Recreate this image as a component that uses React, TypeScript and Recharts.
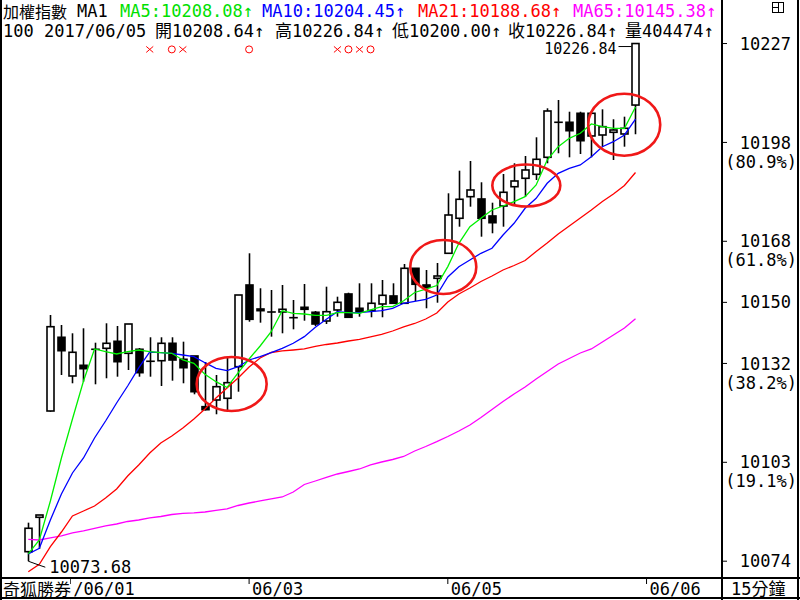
import React from 'react';
import { Bar, ComposedChart, Line, ReferenceDot, XAxis, YAxis } from 'recharts';

// 15-minute bars, 加權指數
const OPEN = [
  10076.5, 10086.67, 10118.12, 10139.93, 10128.48, 10131.64, 10136.38, 10136.67, 10138.74, 10135.19,
  10136.38, 10132.83, 10133.0, 10138.15, 10133.42, 10134.4, 10119.4, 10121.38, 10121.88, 10131.23,
  10155.4, 10148.3, 10147.41, 10147.41, 10145.73, 10148.8, 10147.33, 10144.75, 10148.01, 10152.74,
  10148.51, 10147.8, 10149.78, 10152.15, 10149.99, 10160.34, 10155.4, 10157.38, 10164.78, 10175.14,
  10181.53, 10180.85, 10175.82, 10178.77, 10184.48, 10186.97, 10188.15, 10193.18, 10203.54, 10203.54,
  10206.2, 10199.49, 10199.78, 10200.58, 10200.08, 10208.64,
];
const HIGH = [
  10085.08, 10087.35, 10146.53, 10143.57, 10141.11, 10142.59, 10138.33, 10144.07, 10143.27, 10143.86,
  10136.76, 10139.93, 10139.93, 10139.93, 10138.63, 10134.4, 10132.62, 10128.77, 10134.19, 10152.44,
  10164.78, 10154.43, 10153.92, 10155.4, 10150.96, 10155.7, 10147.71, 10154.9, 10151.94, 10153.12,
  10155.9, 10155.9, 10156.88, 10155.9, 10161.61, 10160.34, 10159.84, 10161.91, 10182.53, 10189.22,
  10192.09, 10185.79, 10179.75, 10188.24, 10191.41, 10193.57, 10199.1, 10207.68, 10210.14, 10206.67,
  10206.67, 10206.4, 10207.38, 10204.43, 10205.2, 10226.84,
];
const LOW = [
  10073.68, 10077.3, 10117.9, 10128.77, 10126.32, 10126.79, 10126.02, 10127.8, 10128.27, 10130.25,
  10128.27, 10128.27, 10125.52, 10127.09, 10126.32, 10123.06, 10118.27, 10117.15, 10117.83, 10123.83,
  10144.54, 10144.25, 10140.11, 10141.11, 10142.29, 10144.84, 10143.27, 10143.86, 10146.02, 10145.64,
  10146.02, 10145.85, 10145.85, 10149.8, 10149.8, 10150.67, 10148.51, 10150.16, 10164.6, 10172.65,
  10178.57, 10169.69, 10170.7, 10172.65, 10179.37, 10181.53, 10186.47, 10191.41, 10194.37, 10193.18,
  10194.16, 10193.18, 10196.32, 10192.38, 10196.32, 10200.0,
];
const CLOSE = [
  10083.42, 10087.35, 10143.06, 10135.96, 10135.49, 10130.64, 10136.38, 10138.15, 10132.71, 10143.86,
  10129.46, 10132.83, 10138.15, 10133.21, 10130.93, 10123.83, 10118.51, 10125.31, 10126.5, 10152.44,
  10145.25, 10147.8, 10147.41, 10148.21, 10145.73, 10148.21, 10143.86, 10147.5, 10150.28, 10145.85,
  10147.5, 10149.99, 10152.35, 10149.99, 10160.34, 10155.61, 10154.72, 10158.06, 10176.11, 10180.76,
  10183.51, 10175.14, 10173.83, 10182.83, 10186.17, 10189.43, 10192.59, 10206.88, 10203.54, 10201.05,
  10198.09, 10206.2, 10202.24, 10201.26, 10201.76, 10226.84,
];

const MA5 = [
  10075.82, 10079.96, 10091.5, 10104.22, 10115.76, 10127.0, 10136.47, 10135.67, 10134.99, 10135.67,
  10136.17, 10135.67, 10135.37, 10135.19, 10133.21, 10132.24, 10128.98, 10126.79, 10125.08, 10129.37,
  10133.51, 10137.35, 10141.58, 10147.8, 10147.03, 10146.82, 10146.44, 10146.44, 10147.21, 10147.21,
  10147.03, 10148.01, 10148.98, 10148.98, 10150.73, 10153.18, 10154.16, 10155.25, 10160.85, 10167.74,
  10172.65, 10175.14, 10177.59, 10178.77, 10180.05, 10181.53, 10184.99, 10192.38, 10196.32, 10198.8,
  10200.28, 10203.04, 10202.24, 10201.76, 10201.76, 10208.08,
];
const MA10 = [
  10075.82, 10077.5, 10085.87, 10093.57, 10099.78, 10104.22, 10110.14, 10115.16, 10120.49, 10125.52,
  10130.85, 10135.58, 10135.37, 10135.19, 10134.69, 10134.19, 10132.41, 10130.76, 10130.05, 10131.23,
  10133.21, 10134.19, 10135.37, 10136.67, 10138.15, 10140.11, 10142.89, 10145.25, 10147.5, 10147.21,
  10147.21, 10147.5, 10147.8, 10148.51, 10149.99, 10150.58, 10151.17, 10152.44, 10157.77, 10160.82,
  10162.8, 10164.78, 10166.26, 10170.19, 10173.66, 10178.09, 10181.05, 10185.49, 10188.45, 10189.93,
  10190.91, 10193.36, 10196.32, 10197.8, 10199.78, 10204.45,
];
const MA21 = [
  10070.58, 10072.77, 10077.98, 10082.32, 10087.06, 10088.54, 10090.02, 10092.38, 10095.05, 10098.89,
  10102.15, 10105.7, 10108.66, 10110.73, 10113.09, 10115.76, 10118.72, 10121.97, 10124.93, 10127.89,
  10131.14, 10133.8, 10135.43, 10135.88, 10136.17, 10136.47, 10137.21, 10137.8, 10138.24, 10138.83,
  10139.28, 10140.02, 10140.76, 10141.79, 10142.98, 10144.01, 10145.34, 10147.12, 10150.37, 10152.74,
  10154.51, 10156.44, 10158.06, 10159.84, 10161.17, 10162.65, 10165.31, 10167.83, 10170.49, 10172.86,
  10175.22, 10177.59, 10180.11, 10182.33, 10184.84, 10188.68,
];
const MA65 = [
  10080.16, 10079.96, 10080.55, 10081.14, 10082.03, 10082.62, 10083.36, 10084.1, 10084.69, 10085.43,
  10085.87, 10086.47, 10086.91, 10087.5, 10087.86, 10087.95, 10088.24, 10088.69, 10089.13, 10090.16,
  10090.9, 10091.5, 10092.09, 10092.68, 10094.16, 10096.38, 10097.41, 10098.45, 10099.48, 10100.22,
  10100.96, 10102.15, 10103.03, 10103.77, 10104.66, 10106.29, 10107.62, 10109.04, 10110.58, 10112.21,
  10113.98, 10116.2, 10118.57, 10120.93, 10123.15, 10125.22, 10127.59, 10129.81, 10132.03, 10133.66,
  10135.28, 10136.47, 10138.54, 10140.61, 10142.68, 10145.38,
];

// price axis: fibonacci levels of the visible range
const LEVELS = [10226.84, 10197.58, 10168.33, 10150.26, 10132.19, 10102.94, 10073.68];
const LEVEL_LABELS = ['10227', '10198', '10168', '10150', '10132', '10103', '10074'];
const LEVEL_PCT = ['', '(80.9%)', '(61.8%)', '', '(38.2%)', '(19.1%)', ''];

// date separators (bar index where a session starts)
const DATE_TICKS = [3.8, 20, 38, 56];
const DATE_LABELS = ['/06/01', '06/03', '06/05', '06/06'];

// x / o signals above the bars
const SIGNAL_IDX = [11, 13, 14, 20, 28, 29, 30, 31];
const SIGNAL_KIND = ['x', 'o', 'x', 'o', 'x', 'o', 'x', 'o'];
const SIGNAL_Y = 10225.1;

// hand-drawn red circles
const RING_X = [18.42, 37.59, 45.11, 53.98];
const RING_Y = [10126.11, 10160.73, 10184.84, 10202.83];
const RING_R = [
  [35, 27],
  [33, 27],
  [34, 21],
  [36, 31],
];

const MONO = "'DejaVu Sans Mono', 'Noto Sans CJK TC', monospace";
const CJK = "'Noto Sans CJK TC', 'DejaVu Sans', sans-serif";

const rows = OPEN.map((o, i) => ({
  idx: i,
  open: o,
  high: HIGH[i],
  low: LOW[i],
  close: CLOSE[i],
  ma5: MA5[i],
  ma10: MA10[i],
  ma21: MA21[i],
  ma65: MA65[i],
}));

function Candle(props: any) {
  const { x, y, width, height, payload } = props;
  if (x == null || y == null) return null;
  const { open, close, high, low } = payload;
  const cx = Math.round(x + width / 2) + 0.5;
  const span = high - low || 1;
  const py = (v: number) => y + ((high - v) / span) * height;
  const top = py(Math.max(open, close));
  const bot = py(Math.min(open, close));
  const up = close >= open;
  return (
    <g>
      <line x1={cx} x2={cx} y1={y} y2={y + height} stroke="#000" strokeWidth={1.6} />
      <rect
        x={cx - 3.5}
        y={top}
        width={7}
        height={Math.max(bot - top, 0.01)}
        fill={up ? '#fff' : '#000'}
        stroke="#000"
        strokeWidth={1.6}
      />
    </g>
  );
}

function PriceTick(props: any) {
  const { y, index } = props;
  return (
    <g>
      <text x={791} y={y} dy="0.36em" textAnchor="end" fontFamily={MONO} fontSize={17} fill="#000">
        {LEVEL_LABELS[index]}
      </text>
      {LEVEL_PCT[index] && (
        <text x={797} y={y + 19} dy="0.36em" textAnchor="end" fontFamily={MONO} fontSize={17} fill="#000">
          {LEVEL_PCT[index]}
        </text>
      )}
    </g>
  );
}

function DateTick(props: any) {
  const { x, index } = props;
  return (
    <g>
      <line x1={x} x2={x} y1={579} y2={584} stroke="#000" strokeWidth={1} />
      <text x={x + 3} y={595} fontFamily={MONO} fontSize={17} fill="#000">
        {DATE_LABELS[index]}
      </text>
    </g>
  );
}

function Ring(rx: number, ry: number) {
  return (p: any) => (
    <ellipse cx={p.cx} cy={p.cy} rx={rx} ry={ry} fill="none" stroke="#f01818" strokeWidth={2.6} />
  );
}

function Signal(kind: string) {
  return (p: any) =>
    kind === 'x' ? (
      <g stroke="#f00" strokeWidth={1}>
        <line x1={p.cx - 3.5} y1={p.cy - 3} x2={p.cx + 3.5} y2={p.cy + 3} />
        <line x1={p.cx - 3.5} y1={p.cy + 3} x2={p.cx + 3.5} y2={p.cy - 3} />
      </g>
    ) : (
      <circle cx={p.cx} cy={p.cy} r={3.5} fill="none" stroke="#f00" strokeWidth={1} />
    );
}

const LowLabel = (p: any) => (
  <g>
    <polyline
      points={`${p.cx},${p.cy} ${p.cx + 11},${p.cy + 4} ${p.cx + 17},${p.cy + 6}`}
      fill="none"
      stroke="#000"
      strokeWidth={1}
    />
    <text x={p.cx + 21} y={p.cy + 6} dy="0.36em" fontFamily={MONO} fontSize={17} fill="#000">
      10073.68
    </text>
  </g>
);

const HighLabel = (p: any) => (
  <g>
    <line x1={p.cx - 17} x2={p.cx - 4} y1={p.cy + 3} y2={p.cy + 3} stroke="#000" strokeWidth={1} />
    <text x={p.cx - 19} y={p.cy + 5} dy="0.36em" textAnchor="end" fontFamily={MONO} fontSize={15} fill="#000">
      10226.84
    </text>
  </g>
);

const seg = (left: number, top: number, text: string, color = '#000', font = MONO, size = 16) => (
  <span
    style={{ position: 'absolute', left, top, color, fontFamily: font, fontSize: size, lineHeight: '16px', whiteSpace: 'nowrap' }}
  >
    {text}
  </span>
);

const rule = (left: number, top: number, width: number, height: number) => (
  <div style={{ position: 'absolute', left, top, width, height, background: '#000' }} />
);

export default function App() {
  return (
    <div style={{ position: 'relative', width: 800, height: 600, background: '#fff', overflow: 'hidden' }}>
      <style>{'body{margin:0}'}</style>
      <ComposedChart width={800} height={600} data={rows} margin={{ top: 0, right: 0, bottom: 0, left: 0 }}>
        <XAxis
          dataKey="idx"
          type="number"
          domain={[-2.563, 62.835]}
          allowDataOverflow
          ticks={DATE_TICKS}
          interval={0}
          height={22}
          axisLine={false}
          tickLine={false}
          tick={<DateTick />}
        />
        <YAxis
          orientation="right"
          type="number"
          domain={[10068.71, 10239.72]}
          allowDataOverflow
          ticks={LEVELS}
          interval={0}
          width={78}
          axisLine={false}
          tickSize={5}
          tickLine={{ stroke: '#000' }}
          tick={<PriceTick />}
        />
        <Line dataKey="ma65" type="linear" stroke="#ff00ff" strokeWidth={1.3} dot={false} isAnimationActive={false} />
        <Line dataKey="ma21" type="linear" stroke="#ff0000" strokeWidth={1.3} dot={false} isAnimationActive={false} />
        <Line dataKey="ma10" type="linear" stroke="#0000ff" strokeWidth={1.3} dot={false} isAnimationActive={false} />
        <Line dataKey="ma5" type="linear" stroke="#00f000" strokeWidth={1.3} dot={false} isAnimationActive={false} />
        <Bar
          dataKey={(d: any) => [d.low, d.high]}
          barSize={7}
          shape={<Candle />}
          isAnimationActive={false}
        />
        {RING_X.map((x, i) => (
          <ReferenceDot key={'r' + i} x={x} y={RING_Y[i]} r={1} shape={Ring(RING_R[i][0], RING_R[i][1])} />
        ))}
        {SIGNAL_IDX.map((x, i) => (
          <ReferenceDot key={'s' + i} x={x} y={SIGNAL_Y} r={1} shape={Signal(SIGNAL_KIND[i])} />
        ))}
        <ReferenceDot x={0} y={10073.68} r={1} shape={LowLabel} />
        <ReferenceDot x={55} y={10226.84} r={1} shape={HighLabel} />
      </ComposedChart>

      {/* header */}
      <div style={{ position: 'absolute', left: 0, top: 0, width: 721, height: 40, overflow: 'hidden' }}>
        {seg(3, 3, '加權指數', '#000', CJK)}
        {seg(77, 3, 'MA1', '#000', MONO, 17)}
        {seg(120, 3, 'MA5:10208.08↑', '#00e000', MONO, 17)}
        {seg(262, 3, 'MA10:10204.45↑', '#0000ff', MONO, 17)}
        {seg(418, 3, 'MA21:10188.68↑', '#ff0000', MONO, 17)}
        {seg(573, 3, 'MA65:10145.38↑', '#ff00ff', MONO, 17)}
        {seg(3, 23, '100 2017/06/05', '#000', MONO, 17)}
        {seg(155, 23, '開10208.64↑', '#000', MONO, 17)}
        {seg(275, 23, '高10226.84↑', '#000', MONO, 17)}
        {seg(392, 23, '低10200.00↑', '#000', MONO, 17)}
        {seg(508, 23, '收10226.84↑', '#000', MONO, 17)}
        {seg(625, 23, '量404474↑', '#000', MONO, 17)}
      </div>

      {/* frame */}
      {rule(0, 0, 2, 600)}
      {rule(797, 0, 2, 600)}
      {rule(0, 597, 800, 2)}
      {rule(0, 577, 800, 2)}
      {rule(721, 0, 2, 600)}

      {/* top-right layout icon */}
      <div style={{ position: 'absolute', left: 772, top: 2, width: 10, height: 9, border: '1px solid #000' }}>
        <div style={{ position: 'absolute', left: 5, top: 0, width: 1, height: 9, background: '#000' }} />
        <div style={{ position: 'absolute', left: 0, top: 4, width: 5, height: 1, background: '#000' }} />
      </div>

      {/* bottom row */}
      <div style={{ position: 'absolute', left: 2, top: 579, width: 68, height: 18, background: '#fff' }} />
      {seg(3, 581, '奇狐勝券', '#000', CJK, 17)}
      {seg(731, 581, '15分鐘', '#000', MONO, 17)}
    </div>
  );
}
